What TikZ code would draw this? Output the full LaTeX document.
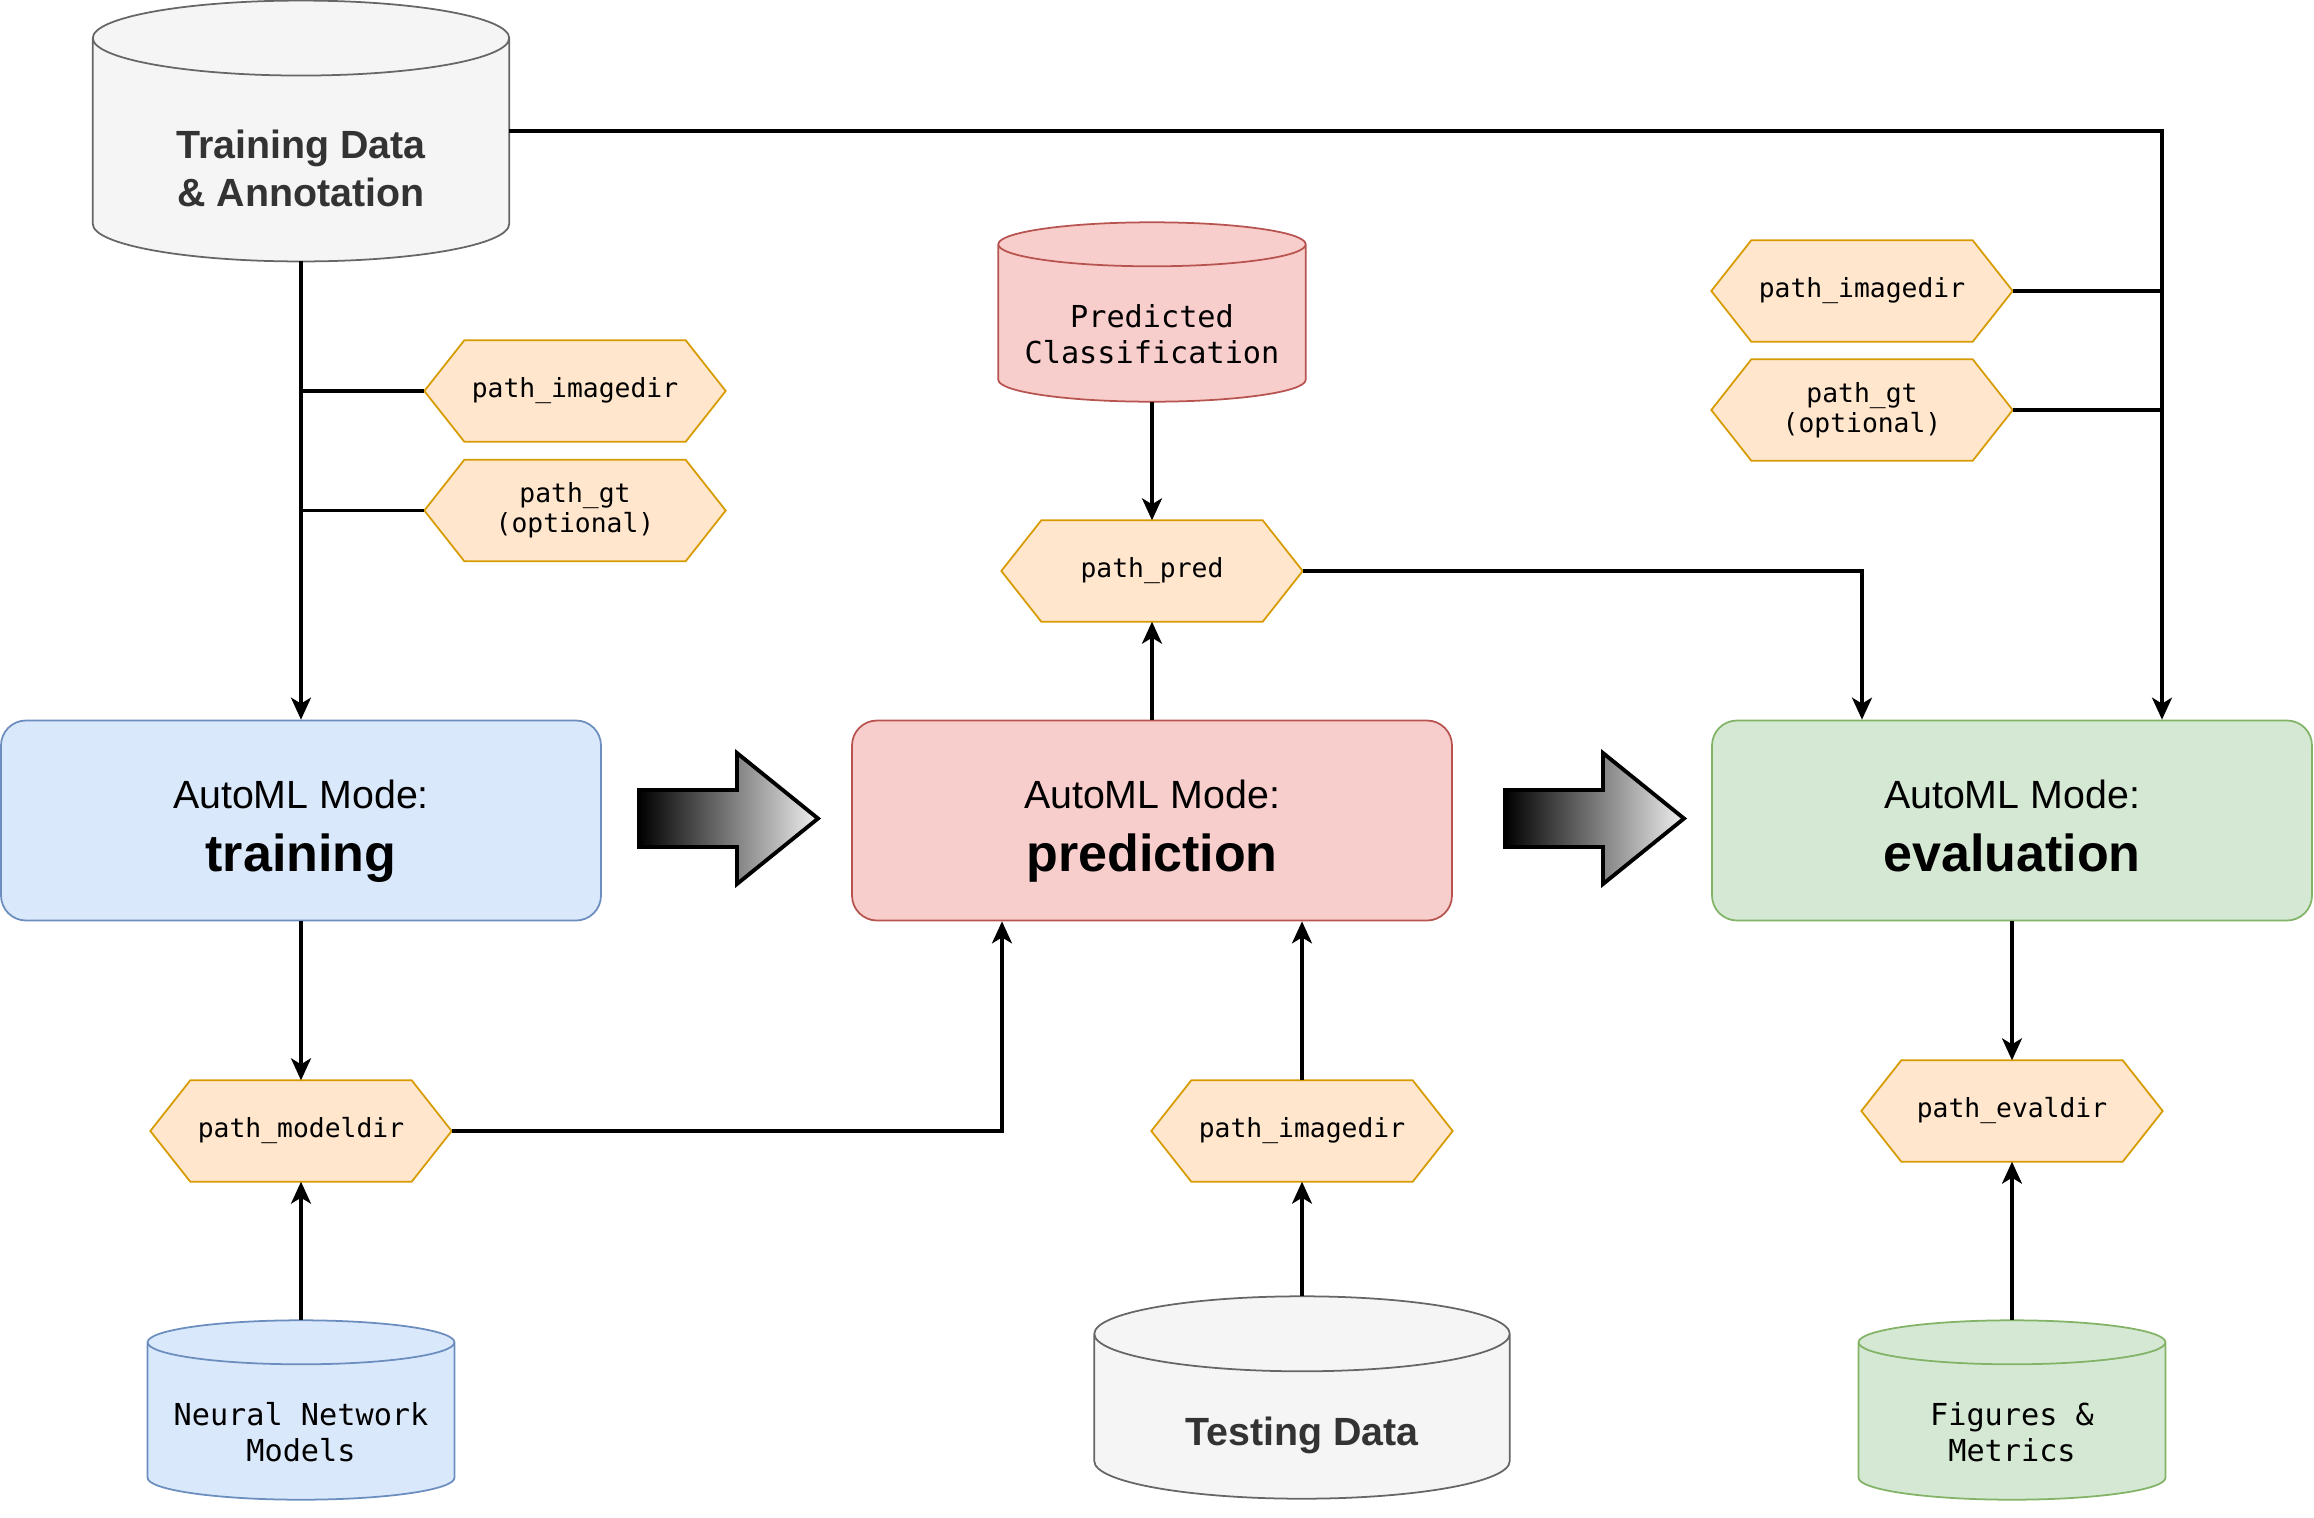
\documentclass[tikz,border=0pt]{standalone}
\usepackage{fontspec}
\setmainfont{Liberation Sans}
\newfontfamily\codefont{DejaVu Sans Mono}
\usetikzlibrary{arrows.meta, backgrounds, calc}
\definecolor{dbGrayFill}{HTML}{F5F5F5}
\definecolor{dbGrayLine}{HTML}{666666}
\definecolor{dbBlueFill}{HTML}{DAE8FC}
\definecolor{dbBlueLine}{HTML}{6C8EBF}
\definecolor{dbRedFill}{HTML}{F8CECC}
\definecolor{dbRedLine}{HTML}{B85450}
\definecolor{dbGreenFill}{HTML}{D5E8D4}
\definecolor{dbGreenLine}{HTML}{82B366}
\definecolor{hexFill}{HTML}{FFE6CC}
\definecolor{hexLine}{HTML}{D79B00}
\definecolor{darkText}{HTML}{333333}
\newcommand{\modetext}[1]{\rule{0pt}{14.4pt}AutoML Mode:\\{\fontsize{14.8}{17.9}\selectfont\bfseries #1\rule[-3.1pt]{0pt}{0pt}}}

\begin{document}
\begin{tikzpicture}[
    modebox/.style={draw, rounded corners=0.25cm, line width=0.5pt, minimum width=6cm, minimum height=2cm,
      align=center, font=\fontsize{11.2}{17.9}\selectfont},
    hexnode/.style={minimum width=3cm, minimum height=1cm, align=center, font=\codefont\fontsize{7.5}{8.5}\selectfont},
    hexline/.style={draw=hexLine, fill=hexFill, line width=0.5pt},
    dbnode/.style={inner sep=0pt},
    dbbold/.style={align=center, text=darkText, font=\bfseries\fontsize{11.2}{13.7}\selectfont},
    dbcode/.style={align=center, font=\codefont\fontsize{8.6}{10.1}\selectfont},
    link/.style={line width=0.9pt},
    flow/.style={link, -{Stealth[length=2.2mm, width=2mm, inset=0.6mm]}},
    bigarrow/.style={draw=black, line width=1.1pt, left color=black, right color=white!94!black}
  ]
  \useasboundingbox (0,0) rectangle (23.14,-15.18);

  % data stores
  \node[dbnode, minimum width=4.15cm, minimum height=2.595cm,
    label={[dbbold, yshift=-3.75mm]center:{Training Data\\\& Annotation}}] (traindb) at (3.01,-1.31) {};
  \node[dbnode, minimum width=3.06cm, minimum height=1.78cm,
    label={[dbcode, yshift=-2.2mm]center:{Predicted\\Classification}}] (clsdb) at (11.52,-3.12) {};
  \node[dbnode, minimum width=3.055cm, minimum height=1.78cm,
    label={[dbcode, yshift=-2.2mm]center:{Neural Network\\Models}}] (nndb) at (3.01,-14.10) {};
  \node[dbnode, minimum width=4.14cm, minimum height=2.01cm,
    label={[dbbold, yshift=-3.75mm]center:{Testing Data}}] (testdb) at (13.02,-13.975) {};
  \node[dbnode, minimum width=3.055cm, minimum height=1.78cm,
    label={[dbcode, yshift=-2.2mm]center:{Figures \&\\Metrics}}] (figdb) at (20.12,-14.10) {};

  % AutoML modes
  \node[modebox, draw=dbBlueLine, fill=dbBlueFill] (train) at (3.01,-8.205) {\modetext{training}};
  \node[modebox, draw=dbRedLine, fill=dbRedFill] (predbox) at (11.52,-8.205) {\modetext{prediction}};
  \node[modebox, draw=dbGreenLine, fill=dbGreenFill] (eval) at (20.12,-8.205) {\modetext{evaluation}};

  % parameters
  \node[hexnode] (trimg) at (5.75,-3.91) {path\_imagedir};
  \node[hexnode] (trgt) at (5.75,-5.105) {path\_gt\\(optional)};
  \node[hexnode] (modeldir) at (3.01,-11.31) {path\_modeldir};
  \node[hexnode] (pred) at (11.52,-5.71) {path\_pred};
  \node[hexnode] (primg) at (13.02,-11.31) {path\_imagedir};
  \node[hexnode] (evaldir) at (20.12,-11.11) {path\_evaldir};
  \node[hexnode] (evimg) at (18.62,-2.91) {path\_imagedir};
  \node[hexnode] (evgt) at (18.62,-4.10) {path\_gt\\(optional)};

  % shapes behind the labels
  \begin{scope}[on background layer]
    \foreach \db/\ry/\col in {traindb/0.375/dbGray, testdb/0.375/dbGray, nndb/0.22/dbBlue,
                              clsdb/0.22/dbRed, figdb/0.22/dbGreen}{
      \draw[draw=\col Line, fill=\col Fill, line width=0.5pt]
        let \p1=(\db.north west), \p2=(\db.south east), \n1={(\x2-\x1)/2} in
        (\x1,{\y1-\ry*1cm}) -- (\x1,{\y2+\ry*1cm})
          arc[start angle=180, end angle=360, x radius=\n1, y radius=\ry*1cm]
          -- (\x2,{\y1-\ry*1cm})
          arc[start angle=0, end angle=180, x radius=\n1, y radius=\ry*1cm] -- cycle
        (\x1,{\y1-\ry*1cm}) arc[start angle=180, end angle=360, x radius=\n1, y radius=\ry*1cm];
    }
    \foreach \h in {trimg, trgt, modeldir, pred, primg, evaldir, evimg, evgt}
      \draw[hexline] (\h.west) -- ([xshift=4mm]\h.north west) -- ([xshift=-4mm]\h.north east)
        -- (\h.east) -- ([xshift=-4mm]\h.south east) -- ([xshift=4mm]\h.south west) -- cycle;
  \end{scope}

  % big arrows between modes
  \foreach \x in {6.39, 15.05}
    \draw[bigarrow] (\x,-7.90) -- ++(0.98,0) -- ++(0,0.37) -- ++(0.81,-0.655)
      -- ++(-0.81,-0.655) -- ++(0,0.37) -- ++(-0.98,0) -- cycle;

  % training
  \draw[link] (trimg.west) -- (trimg.west -| train.north);
  \draw[link] (trgt.west) -- (trgt.west -| train.north);
  \draw[flow] (traindb.south) -- (train.north);
  \draw[flow] (train.south) -- (modeldir.north);
  \draw[flow] (nndb.north) -- (modeldir.south);
  \draw[flow] (modeldir.east) -| ([xshift=-15mm]predbox.south);
  % prediction
  \draw[flow] (predbox.north) -- (pred.south);
  \draw[flow] (clsdb.south) -- (pred.north);
  \draw[flow] (primg.north) -- (primg.north |- predbox.south);
  \draw[flow] (testdb.north) -- (primg.south);
  \draw[flow] (pred.east) -| ([xshift=-15mm]eval.north);
  % evaluation
  \coordinate (evin) at ([xshift=15mm]eval.north);
  \draw[flow] (traindb.east) -| (evin);
  \draw[link] (evimg.east) -- (evimg.east -| evin);
  \draw[link] (evgt.east) -- (evgt.east -| evin);
  \draw[flow] (eval.south) -- (evaldir.north);
  \draw[flow] (figdb.north) -- (evaldir.south);
\end{tikzpicture}
\end{document}
